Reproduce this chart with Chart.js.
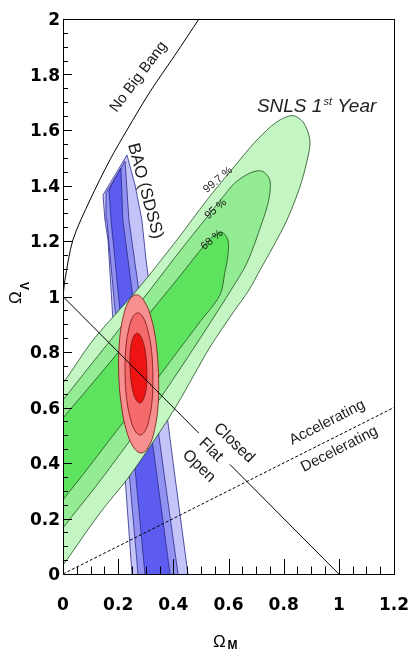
<!DOCTYPE html>
<html>
<head>
<meta charset="utf-8">
<script src="https://cdn.jsdelivr.net/npm/chart.js@4.4.1/dist/chart.umd.min.js"></script>
<style>
  html, body { margin: 0; padding: 0; background: #fff; }
  canvas { display: block; }
</style>
</head>
<body>
<canvas id="chart" width="412" height="650"></canvas>
<script>
// Omega_M / Omega_Lambda plane: SNLS 1st year, BAO (SDSS) and the combined contours

const xTickLabels = ['0', '0.2', '0.4', '0.6', '0.8', '1', '1.2'];
const yTickLabels = ['0', '0.2', '0.4', '0.6', '0.8', '1', '1.2', '1.4', '1.6', '1.8', '2'];

// BAO (SDSS) band: 99.7 %, 95 %, 68 %  [Omega_M, Omega_Lambda]
const baoOuter = [[0.145,1.366],[0.232,1.510],[0.261,1.402],[0.286,1.276],[0.301,1.132],[0.330,0.915],[0.370,0.627],[0.406,0.350],[0.453,0],[0.464,-0.076],[0.257,-0.076],[0.250,0],[0.225,0.350],[0.203,0.627],[0.181,0.915],[0.163,1.204],[0.152,1.276],[0.145,1.366]];
const baoMid = [[0.156,1.373],[0.225,1.488],[0.239,1.276],[0.290,0.915],[0.330,0.627],[0.368,0.350],[0.417,0],[0.428,-0.076],[0.279,-0.076],[0.272,0],[0.241,0.350],[0.217,0.627],[0.192,0.915],[0.159,1.276],[0.156,1.373]];
const baoInner = [[0.167,1.384],[0.210,1.463],[0.217,1.276],[0.264,0.915],[0.304,0.627],[0.341,0.350],[0.388,0],[0.399,-0.076],[0.304,-0.076],[0.297,0],[0.264,0.350],[0.236,0.627],[0.210,0.915],[0.174,1.276],[0.167,1.384]];

// SNLS 1st year contours
const snlsOuter = [[-0.083,0.591],[0,0.688],[0.109,0.843],[0.268,1.023],[0.413,1.204],[0.522,1.348],[0.605,1.449],[0.703,1.564],[0.775,1.629],[0.833,1.652],[0.873,1.625],[0.895,1.564],[0.888,1.503],[0.859,1.395],[0.812,1.276],[0.761,1.178],[0.714,1.095],[0.674,1.023],[0.616,0.941],[0.533,0.818],[0.471,0.710],[0.413,0.609],[0.341,0.497],[0.236,0.346],[0.134,0.220],[0,0.032],[-0.083,-0.076],[-0.083,0.591]];
const snlsMid = [[-0.083,0.521],[0,0.627],[0.098,0.750],[0.207,0.886],[0.315,1.023],[0.435,1.178],[0.522,1.286],[0.580,1.359],[0.623,1.409],[0.678,1.445],[0.721,1.452],[0.750,1.420],[0.746,1.348],[0.721,1.265],[0.667,1.121],[0.609,1.023],[0.540,0.915],[0.453,0.782],[0.348,0.627],[0.236,0.472],[0.120,0.317],[0,0.166],[-0.083,0.050],[-0.083,0.521]];
const snlsInner = [[-0.083,0.461],[0,0.562],[0.098,0.677],[0.207,0.807],[0.315,0.941],[0.424,1.074],[0.514,1.186],[0.547,1.218],[0.576,1.232],[0.598,1.204],[0.598,1.150],[0.587,1.088],[0.569,1.005],[0.496,0.908],[0.406,0.789],[0.297,0.645],[0.188,0.508],[0.091,0.382],[0,0.267],[-0.083,0.159],[-0.083,0.461]];

// combined SNLS + BAO contours
const combOuter = [[0.347,0.721],[0.338,0.830],[0.320,0.922],[0.294,0.984],[0.266,1.006],[0.239,0.984],[0.217,0.922],[0.204,0.830],[0.202,0.721],[0.211,0.612],[0.229,0.520],[0.255,0.458],[0.283,0.436],[0.310,0.458],[0.332,0.520],[0.345,0.612],[0.347,0.721]];
const combMid = [[0.326,0.721],[0.321,0.805],[0.308,0.876],[0.291,0.924],[0.271,0.941],[0.252,0.924],[0.237,0.876],[0.227,0.805],[0.225,0.721],[0.230,0.637],[0.243,0.566],[0.260,0.518],[0.280,0.501],[0.299,0.518],[0.314,0.566],[0.324,0.637],[0.326,0.721]];
const combInner = [[0.304,0.742],[0.300,0.790],[0.292,0.831],[0.281,0.858],[0.269,0.868],[0.257,0.858],[0.248,0.831],[0.243,0.790],[0.243,0.742],[0.247,0.694],[0.255,0.653],[0.266,0.626],[0.279,0.616],[0.290,0.626],[0.299,0.653],[0.304,0.694],[0.304,0.742]];

// boundary lines
const noBigBang = [[0,1.0],[0.007,1.059],[0.036,1.204],[0.098,1.348],[0.170,1.492],[0.232,1.600],[0.315,1.737],[0.406,1.870],[0.493,2.0]];
const flatUpper = [[0,1],[0.492,0.508]];
const flatLower = [[0.605,0.395],[1,0]];
const accelLine = [[0,0],[1.2,0.6]];

const toPoints = arr => arr.map(([x, y]) => ({ x, y }));

function region(data, fillColor, lineColor, order, tension) {
  return {
    data: toPoints(data),
    showLine: true,
    fill: 'shape',
    backgroundColor: fillColor,
    borderColor: lineColor,
    borderWidth: 0.8,
    pointRadius: 0,
    pointHoverRadius: 0,
    tension: tension,
    order: order
  };
}

function curve(data, color, dash, order, tension) {
  return {
    data: toPoints(data),
    showLine: true,
    fill: false,
    borderColor: color,
    borderWidth: 1,
    borderDash: dash,
    pointRadius: 0,
    pointHoverRadius: 0,
    tension: tension,
    order: order
  };
}

// free text placed in data coordinates
const notes = [
  { text: 'No Big Bang', x: 0.274, y: 1.791, angle: -53, font: '15px "Liberation Sans"' },
  { text: 'BAO (SDSS)', x: 0.298, y: 1.380, angle: 75, font: '17px "Liberation Sans"' },
  { text: '99.7 %', x: 0.562, y: 1.420, angle: -40, font: '11px "Liberation Sans"' },
  { text: '95 %', x: 0.554, y: 1.315, angle: -40, font: '11px "Liberation Sans"' },
  { text: '68 %', x: 0.540, y: 1.204, angle: -40, font: '11px "Liberation Sans"' },
  { text: 'Closed', x: 0.620, y: 0.472, angle: 44, font: '16px "Liberation Sans"' },
  { text: 'Flat', x: 0.536, y: 0.447, angle: 44, font: '16px "Liberation Sans"' },
  { text: 'Open', x: 0.493, y: 0.389, angle: 44, font: '16px "Liberation Sans"' },
  { text: 'Accelerating', x: 0.958, y: 0.546, angle: -27, font: '15px "Liberation Sans"' },
  { text: 'Decelerating', x: 1.002, y: 0.450, angle: -27, font: '15px "Liberation Sans"' }
];

function drawNote(ctx, n, px, py) {
  ctx.save();
  ctx.translate(px, py);
  ctx.rotate(n.angle * Math.PI / 180);
  ctx.font = n.font;
  ctx.fillStyle = '#1a1a1a';
  ctx.textAlign = 'center';
  ctx.textBaseline = 'middle';
  ctx.fillText(n.text, 0, 0);
  ctx.restore();
}

const annotations = {
  id: 'annotations',
  afterDatasetsDraw(chart) {
    const ctx = chart.ctx;
    const xs = chart.scales.x, ys = chart.scales.y;
    notes.forEach(n => drawNote(ctx, n, xs.getPixelForValue(n.x), ys.getPixelForValue(n.y)));

    // SNLS 1st Year, with superscript
    ctx.save();
    ctx.fillStyle = '#222';
    ctx.textAlign = 'left';
    ctx.textBaseline = 'alphabetic';
    let px = xs.getPixelForValue(0.703);
    const py = ys.getPixelForValue(1.665);
    ctx.font = 'italic 19px "Liberation Sans"';
    ctx.fillText('SNLS 1', px, py);
    px += ctx.measureText('SNLS 1').width;
    ctx.font = 'italic 11px "Liberation Sans"';
    ctx.fillText('st', px + 1, py - 7);
    px += ctx.measureText('st').width + 1;
    ctx.font = 'italic 19px "Liberation Sans"';
    ctx.fillText(' Year', px, py);
    ctx.restore();
  }
};

const frame = {
  id: 'frame',
  afterDraw(chart) {
    const ctx = chart.ctx;
    const { left, right, top, bottom } = chart.chartArea;
    const xs = chart.scales.x, ys = chart.scales.y;
    ctx.save();
    ctx.strokeStyle = '#000';
    ctx.lineWidth = 1;
    ctx.strokeRect(Math.round(left) + 0.5, Math.round(top) + 0.5, Math.round(right - left), Math.round(bottom - top));

    const xTicks = xTickLabels.map(Number);
    const yTicks = yTickLabels.map(Number);
    ctx.beginPath();
    // x axis: major + 3 minor per interval, pointing up
    xTicks.forEach((v, i) => {
      const p = Math.round(xs.getPixelForValue(v)) + 0.5;
      ctx.moveTo(p, bottom); ctx.lineTo(p, bottom - 15);
      if (i < xTicks.length - 1) {
        for (let k = 1; k < 4; k++) {
          const q = Math.round(xs.getPixelForValue(v + (xTicks[i + 1] - v) * k / 4)) + 0.5;
          ctx.moveTo(q, bottom); ctx.lineTo(q, bottom - 7.5);
        }
      }
    });
    // y axis, pointing right
    yTicks.forEach((v, i) => {
      const p = Math.round(ys.getPixelForValue(v)) + 0.5;
      ctx.moveTo(left, p); ctx.lineTo(left + 9, p);
      if (i < yTicks.length - 1) {
        for (let k = 1; k < 4; k++) {
          const q = Math.round(ys.getPixelForValue(v + (yTicks[i + 1] - v) * k / 4)) + 0.5;
          ctx.moveTo(left, q); ctx.lineTo(left + 5, q);
        }
      }
    });
    ctx.stroke();

    // tick labels
    ctx.fillStyle = '#000';
    ctx.font = 'bold 17px "DejaVu Sans"';
    ctx.textBaseline = 'alphabetic';
    ctx.textAlign = 'center';
    xTickLabels.forEach((t, i) => ctx.fillText(t, xs.getPixelForValue(xTicks[i]), bottom + 36));
    ctx.textAlign = 'right';
    yTickLabels.forEach((t, i) => ctx.fillText(t, left - 3, ys.getPixelForValue(yTicks[i]) + 6));

    // axis titles
    ctx.textAlign = 'left';
    ctx.font = '17px "Liberation Sans"';
    ctx.fillText('\u03A9', 213, 647);
    ctx.font = 'bold 12px "Liberation Sans"';
    ctx.fillText('M', 227.5, 649);

    ctx.translate(21, 304);
    ctx.rotate(-Math.PI / 2);
    ctx.font = '17px "Liberation Sans"';
    ctx.fillText('\u03A9', 0, 0);
    ctx.font = 'bold 12px "Liberation Sans"';
    ctx.fillText('\u039B', 14, 8);
    ctx.restore();
  }
};

new Chart(document.getElementById('chart'), {
  type: 'scatter',
  data: {
    datasets: [
      region(baoOuter, '#c4c4f8', '#2a2a8a', 12, 0),
      region(baoMid, '#9292f2', '#2a2a8a', 11, 0),
      region(baoInner, '#5c5cf0', '#2a2a8a', 10, 0),
      region(snlsOuter, '#c3f6c3', '#1f4f1f', 9, 0.3),
      region(snlsMid, '#93ec93', '#1f4f1f', 8, 0.3),
      region(snlsInner, '#5ee35e', '#1f4f1f', 7, 0.3),
      region(combOuter, '#f79090', '#7a1010', 6, 0.4),
      region(combMid, '#f56b6b', '#7a1010', 5, 0.4),
      region(combInner, '#ee1414', '#7a1010', 4, 0.4),
      curve(noBigBang, '#000', [], 3, 0.3),
      curve(flatUpper, '#000', [], 2, 0),
      curve(flatLower, '#000', [], 2, 0),
      curve(accelLine, '#000', [3, 2], 1, 0)
    ]
  },
  options: {
    responsive: false,
    animation: false,
    events: [],
    layout: { padding: { left: 63, right: 18, top: 19, bottom: 76 } },
    elements: { line: { capBezierPoints: false } },
    plugins: { legend: { display: false }, tooltip: { enabled: false } },
    scales: {
      x: { type: 'linear', min: 0, max: 1.2, display: false },
      y: { type: 'linear', min: 0, max: 2, display: false }
    }
  },
  plugins: [annotations, frame]
});
</script>
</body>
</html>
